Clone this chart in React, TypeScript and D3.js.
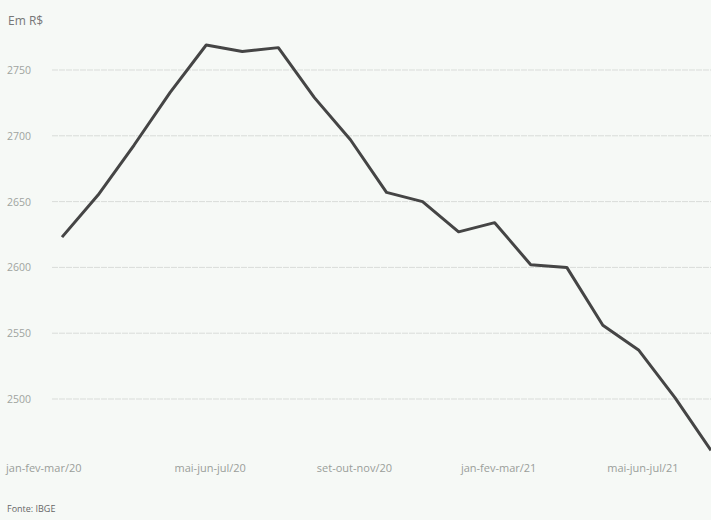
import { useEffect } from "react";
import { scaleLinear, scalePoint, line } from "d3";

// trimestres móveis, jan-fev-mar/20 até jul-ago-set/21
const periods = [
	"jan-fev-mar/20", "fev-mar-abr/20", "mar-abr-mai/20", "abr-mai-jun/20",
	"mai-jun-jul/20", "jun-jul-ago/20", "jul-ago-set/20", "ago-set-out/20",
	"set-out-nov/20", "out-nov-dez/20", "nov-dez-jan/21", "dez-jan-fev/21",
	"jan-fev-mar/21", "fev-mar-abr/21", "mar-abr-mai/21", "abr-mai-jun/21",
	"mai-jun-jul/21", "jun-jul-ago/21", "jul-ago-set/21",
];
const income = [
	2623, 2655, 2693, 2733, 2769, 2764, 2767, 2729, 2697, 2657,
	2650, 2627, 2634, 2602, 2600, 2556, 2537, 2501, 2461,
];
const yTicks = [2500, 2550, 2600, 2650, 2700, 2750];
const xLabels = ["jan-fev-mar/20", "mai-jun-jul/20", "set-out-nov/20", "jan-fev-mar/21", "mai-jun-jul/21"];

const W = 711;
const H = 520;
const font = "'Open Sans', 'DejaVu Sans', sans-serif";

export default function App() {
	useEffect(() => {
		document.body.style.margin = "0";
	}, []);

	const x = scalePoint<string>().domain(periods).range([62, 711]);
	const y = scaleLinear().domain([2500, 2750]).range([399, 70]);

	const path = line<number>()
		.x((_, i) => x(periods[i]) ?? 0)
		.y((d) => y(d))(income);

	return (
		<svg width={W} height={H} style={{ display: "block", background: "#f6f9f6" }}>
			<text x={8} y={25} fontFamily={font} fontSize={12} fill="#777">Em R$</text>
			{yTicks.map((t) => (
				<g key={t}>
					<line x1={52} x2={W} y1={y(t)} y2={y(t)} stroke="#d9dcd9" strokeWidth={1} strokeDasharray="6 1" />
					<text x={7} y={y(t) + 4} fontFamily={font} fontSize={10.5} fill="#a0a4a0">{t}</text>
				</g>
			))}
			<path d={path ?? ""} fill="none" stroke="#454545" strokeWidth={3} strokeLinejoin="round" />
			{xLabels.map((l, i) => (
				<text
					key={l}
					x={i === 0 ? 6 : (x(l) ?? 0) + 4}
					y={472}
					textAnchor={i === 0 ? "start" : "middle"}
					fontFamily={font}
					fontSize={11}
					fill="#9a9e9a"
				>
					{l}
				</text>
			))}
			<text x={7} y={512} fontFamily={font} fontSize={9} fill="#666">Fonte: IBGE</text>
		</svg>
	);
}
